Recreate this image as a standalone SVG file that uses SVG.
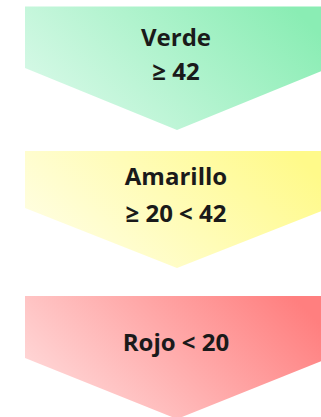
<svg xmlns="http://www.w3.org/2000/svg" width="321" height="417" viewBox="0 0 321 417">
<defs>
<linearGradient id="gGreen" x1="0" y1="0.7" x2="1" y2="0.3"><stop offset="0" stop-color="#d8f9e8"/><stop offset="1" stop-color="#8aedb4"/></linearGradient>
<linearGradient id="gYellow" x1="0" y1="0.7" x2="1" y2="0.3"><stop offset="0" stop-color="#fffee4"/><stop offset="1" stop-color="#fffa8a"/></linearGradient>
<linearGradient id="gRed" x1="0" y1="0.7" x2="1" y2="0.3"><stop offset="0" stop-color="#ffdada"/><stop offset="1" stop-color="#ff7f7f"/></linearGradient>
<style>
.lbl{font-family:"Open Sans","Liberation Sans",sans-serif;font-weight:bold;font-size:24px;fill:#1a1a1a;text-anchor:middle}
</style>
</defs>
<rect width="321" height="417" fill="#ffffff"/>
<g id="verde">
<polygon points="25,6.5 329,6.5 329,68 177,130 25,68" fill="url(#gGreen)"/>
<text class="lbl" x="176" y="45.5">Verde</text>
<text class="lbl" x="176" y="80">≥ 42</text>
</g>
<g id="amarillo">
<polygon points="25,151 329,151 329,208 177,268 25,208" fill="url(#gYellow)"/>
<text class="lbl" x="176" y="185">Amarillo</text>
<text class="lbl" x="176" y="221.5">≥ 20 &lt; 42</text>
</g>
<g id="rojo">
<polygon points="25,296 329,296 329,358 177,419 25,358" fill="url(#gRed)"/>
<text class="lbl" x="176" y="351">Rojo &lt; 20</text>
</g>
<g id="connectors"></g>
</svg>
